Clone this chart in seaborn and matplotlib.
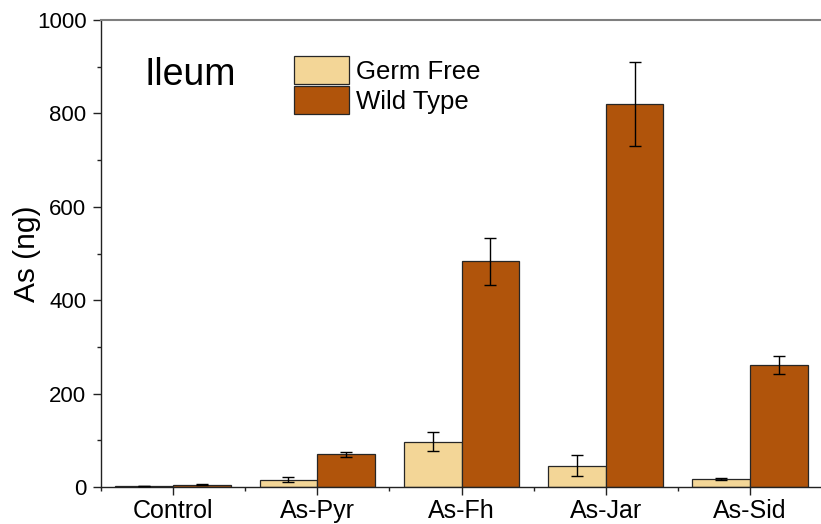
import matplotlib
matplotlib.use("Agg")
import matplotlib.pyplot as plt
import seaborn as sns
import pandas as pd
from matplotlib.ticker import MultipleLocator

# Arsenic content in ileum, by treatment and mouse type
treatments = ["Control", "As-Pyr", "As-Fh", "As-Jar", "As-Sid"]
groups = ["Germ Free", "Wild Type"]
germ_free = [2, 16, 97, 46, 17]
germ_free_err = [0.5, 6, 20, 23, 1.5]
wild_type = [5, 70, 483, 821, 261]
wild_type_err = [1, 5, 50, 90, 20]

colors = {"Germ Free": "#F3D697", "Wild Type": "#B0540B"}

df = pd.DataFrame({
    "treatment": treatments * 2,
    "group": [groups[0]] * len(treatments) + [groups[1]] * len(treatments),
    "value": germ_free + wild_type,
    "err": germ_free_err + wild_type_err,
})

sns.set_theme(style="ticks")
plt.rcParams["font.family"] = ["Liberation Sans", "DejaVu Sans"]
plt.rcParams["text.color"] = "black"
plt.rcParams["axes.labelcolor"] = "black"
plt.rcParams["xtick.color"] = "black"
plt.rcParams["ytick.color"] = "black"

fig = plt.figure(figsize=(8.21, 5.24), dpi=100)
ax = fig.add_axes([101 / 821, 37 / 524, 721 / 821, 467 / 524])

sns.barplot(data=df, x="treatment", y="value", hue="group",
            order=treatments, hue_order=groups, palette=colors,
            errorbar=None, width=0.8, gap=0, saturation=1,
            edgecolor="#262626", linewidth=0.9, ax=ax)

# error bars placed at the centre of each drawn bar
for container, grp in zip(ax.containers, groups):
    sub = df[df["group"] == grp].set_index("treatment").loc[treatments]
    xs = [p.get_x() + p.get_width() / 2 for p in container.patches]
    ax.errorbar(xs, sub["value"].values, yerr=sub["err"].values,
                fmt="none", ecolor="black", elinewidth=1.0,
                capsize=4.5, capthick=1.0, zorder=5)

ax.set_xlim(-0.5, 4.5)
ax.set_ylim(0, 1000)
ax.yaxis.set_major_locator(MultipleLocator(200))
ax.yaxis.set_minor_locator(MultipleLocator(100))
ax.xaxis.set_minor_locator(MultipleLocator(0.5))

ax.set_xlabel("")
ax.set_ylabel("As (ng)", fontsize=21.5)
ax.yaxis.set_label_coords(-0.083, 0.5)
ax.tick_params(axis="both", which="major", direction="out", length=5.5,
               width=1, color="#222222", labelsize=18, pad=3)
ax.tick_params(axis="y", labelsize=16, pad=5)
ax.tick_params(axis="both", which="minor", direction="out", length=3,
               width=1, color="#222222")

for side in ["left", "bottom"]:
    ax.spines[side].set_color("#222222")
    ax.spines[side].set_linewidth(1.0)
ax.spines["top"].set_color("#7f7f7f")
ax.spines["top"].set_linewidth(1.5)
ax.spines["right"].set_visible(False)

ax.text(0.061, 0.882, "Ileum", transform=ax.transAxes, fontsize=27,
        ha="left", va="center")

leg = ax.legend(loc="upper left", bbox_to_anchor=(0.267, 0.922), frameon=False,
                fontsize=18.5, handlelength=2.15, handleheight=1.3,
                handletextpad=0.3, labelspacing=0.08, borderaxespad=0,
                borderpad=0)
for h in leg.legend_handles:
    h.set_edgecolor("#262626")
    h.set_linewidth(0.9)

fig.savefig("out.png", dpi=100)
